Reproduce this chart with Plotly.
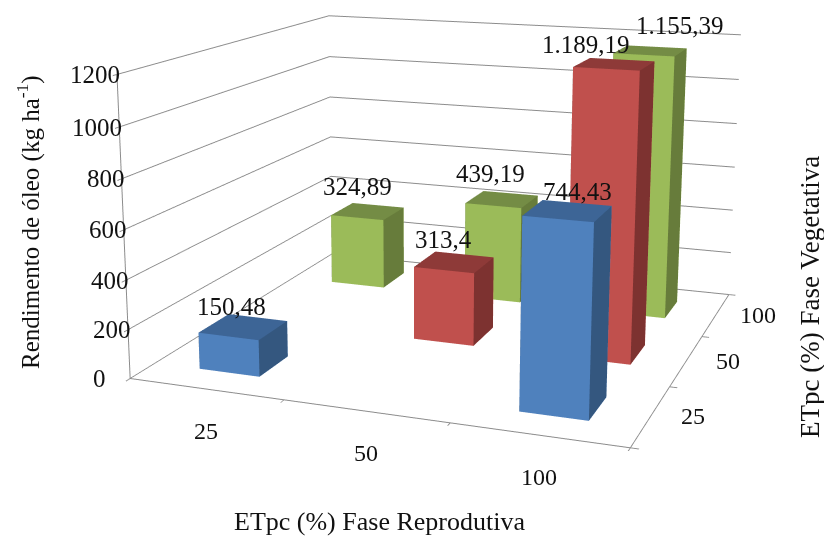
import plotly.graph_objects as go

reprodutiva = ["25", "50", "100"]
vegetativa = ["25", "50", "100"]
veg_25 = [150.48, None, 744.43]
veg_50 = [None, 313.4, 1189.19]
veg_100 = [324.89, 439.19, 1155.39]
rotulos_25 = ["150,48", None, "744,43"]
rotulos_50 = [None, "313,4", "1.189,19"]
rotulos_100 = ["324,89", "439,19", "1.155,39"]
z_ticks = [0, 200, 400, 600, 800, 1000, 1200]

# pixel nudges of the value labels, by (reproductive index, vegetative index)
desloc = {(0, 0): (-12, 6), (2, 0): (10, 7), (1, 1): (-11, 3), (2, 1): (-28, 6),
          (0, 2): (-10, 1), (1, 2): (-11, 0), (2, 2): (30, 1)}

FONT = "Liberation Serif"
INK = "#111111"
GRAY = "#8C8C8C"
W = 0.199
FIG_W, FIG_H, SHIFT = 838, 1314, 469

series = [
    (0, veg_25, rotulos_25, "#4F81BD", "#34577F", "#3D6596"),
    (1, veg_50, rotulos_50, "#C0504D", "#7D3230", "#8E3A38"),
    (2, veg_100, rotulos_100, "#9BBB59", "#677C3B", "#748C45"),
]

fig = go.Figure()


def bar(i, j, h, front, side, top):
    x0, x1 = i + .5 - W, i + .5 + W
    y0, y1 = j + .5 - W, j + .5 + W
    X = [x0, x1, x1, x0, x0, x1, x1, x0]
    Y = [y0, y0, y1, y1, y0, y0, y1, y1]
    Z = [0, 0, 0, 0, h, h, h, h]
    tri = [(0, 1, 5), (0, 5, 4), (1, 2, 6), (1, 6, 5), (4, 5, 6), (4, 6, 7),
           (3, 2, 6), (3, 6, 7), (0, 3, 7), (0, 7, 4), (0, 1, 2), (0, 2, 3)]
    cols = [front, front, side, side, top, top, front, front, side, side, front, front]
    fig.add_trace(go.Mesh3d(x=X, y=Y, z=Z, i=[t[0] for t in tri], j=[t[1] for t in tri], k=[t[2] for t in tri],
                            facecolor=cols, flatshading=True, showscale=False, hoverinfo="skip",
                            lighting=dict(ambient=1, diffuse=0, specular=0, fresnel=0, roughness=1)))


def txt(x, y, z, s, xs=0, ys=0, anchor="center", size=25):
    return dict(x=x, y=y, z=z, text=s, showarrow=False, xshift=xs, yshift=ys, xanchor=anchor, yanchor="middle",
                font=dict(family=FONT, size=size, color=INK))


notes = []
for j, vals, labs, c1, c2, c3 in series:
    for i, v in enumerate(vals):
        if v is None:
            continue
        bar(i, j, v, c1, c2, c3)
        dx, dy = desloc[(i, j)]
        notes.append(txt(i + .5, j + .5, v, labs[i], dx, 26 - dy))
for i, s in enumerate(reprodutiva):
    notes.append(txt(i + .5, 0, 0, s, 0, -42, size=24))
for j, s in enumerate(vegetativa):
    notes.append(txt(3, j + .5, 0, s, 42, 0, size=24))
for t in z_ticks:
    notes.append(txt(0, 0, t, str(t), 5 if t else -22, 0, "right"))

axis = dict(showbackground=True, backgroundcolor="white", showspikes=False, title="",
            showline=True, linecolor=GRAY, linewidth=2, zeroline=False)


def note(s, x, y, size, angle=0):
    return dict(text=s, x=x / FIG_W, y=1 - (y + SHIFT) / FIG_H, xref="paper", yref="paper", showarrow=False,
                textangle=angle, xanchor="center", yanchor="middle", font=dict(family=FONT, size=size, color=INK))


fig.update_layout(
    width=FIG_W, height=FIG_H, showlegend=False, paper_bgcolor="white",
    margin=dict(l=0, r=0, t=0, b=0),
    scene=dict(
        domain=dict(x=[0, 1], y=[0, 1]),
        xaxis=dict(axis, range=[0, 3], tickvals=[0, 1, 2, 3], ticktext=[""] * 4, showgrid=False,
                   ticks="outside", tickcolor=GRAY, ticklen=6, tickwidth=2),
        yaxis=dict(axis, range=[0, 3], tickvals=[0, 1, 2, 3], ticktext=[""] * 4, showgrid=False,
                   ticks="outside", tickcolor=GRAY, ticklen=6, tickwidth=2),
        zaxis=dict(axis, range=[0, 1200], tickvals=z_ticks, showticklabels=False,
                   ticks="outside", tickcolor=GRAY, ticklen=6, tickwidth=2, gridcolor=GRAY, gridwidth=2),
        aspectmode="manual", aspectratio=dict(x=1.25, y=1.228, z=.753),
        camera=dict(eye=dict(x=1.339, y=-3.811, z=.956), center=dict(x=-.089, y=-.028, z=.02), up=dict(x=0, y=0, z=1)),
        annotations=notes,
    ),
    annotations=[
        note("ETpc (%) Fase Reprodutiva", 379, 521, 26),
        note("Rendimento de óleo (kg ha<sup>-1</sup>)", 28, 222, 25, -90),
        note("ETpc (%) Fase Vegetativa", 810, 297, 27, -90),
    ],
)
fig.write_html("out.html", post_script=(
    "document.body.style.margin='0';document.body.style.overflow='hidden';"
    "document.getElementById('{plot_id}').style.marginTop='-%dpx';" % SHIFT))
